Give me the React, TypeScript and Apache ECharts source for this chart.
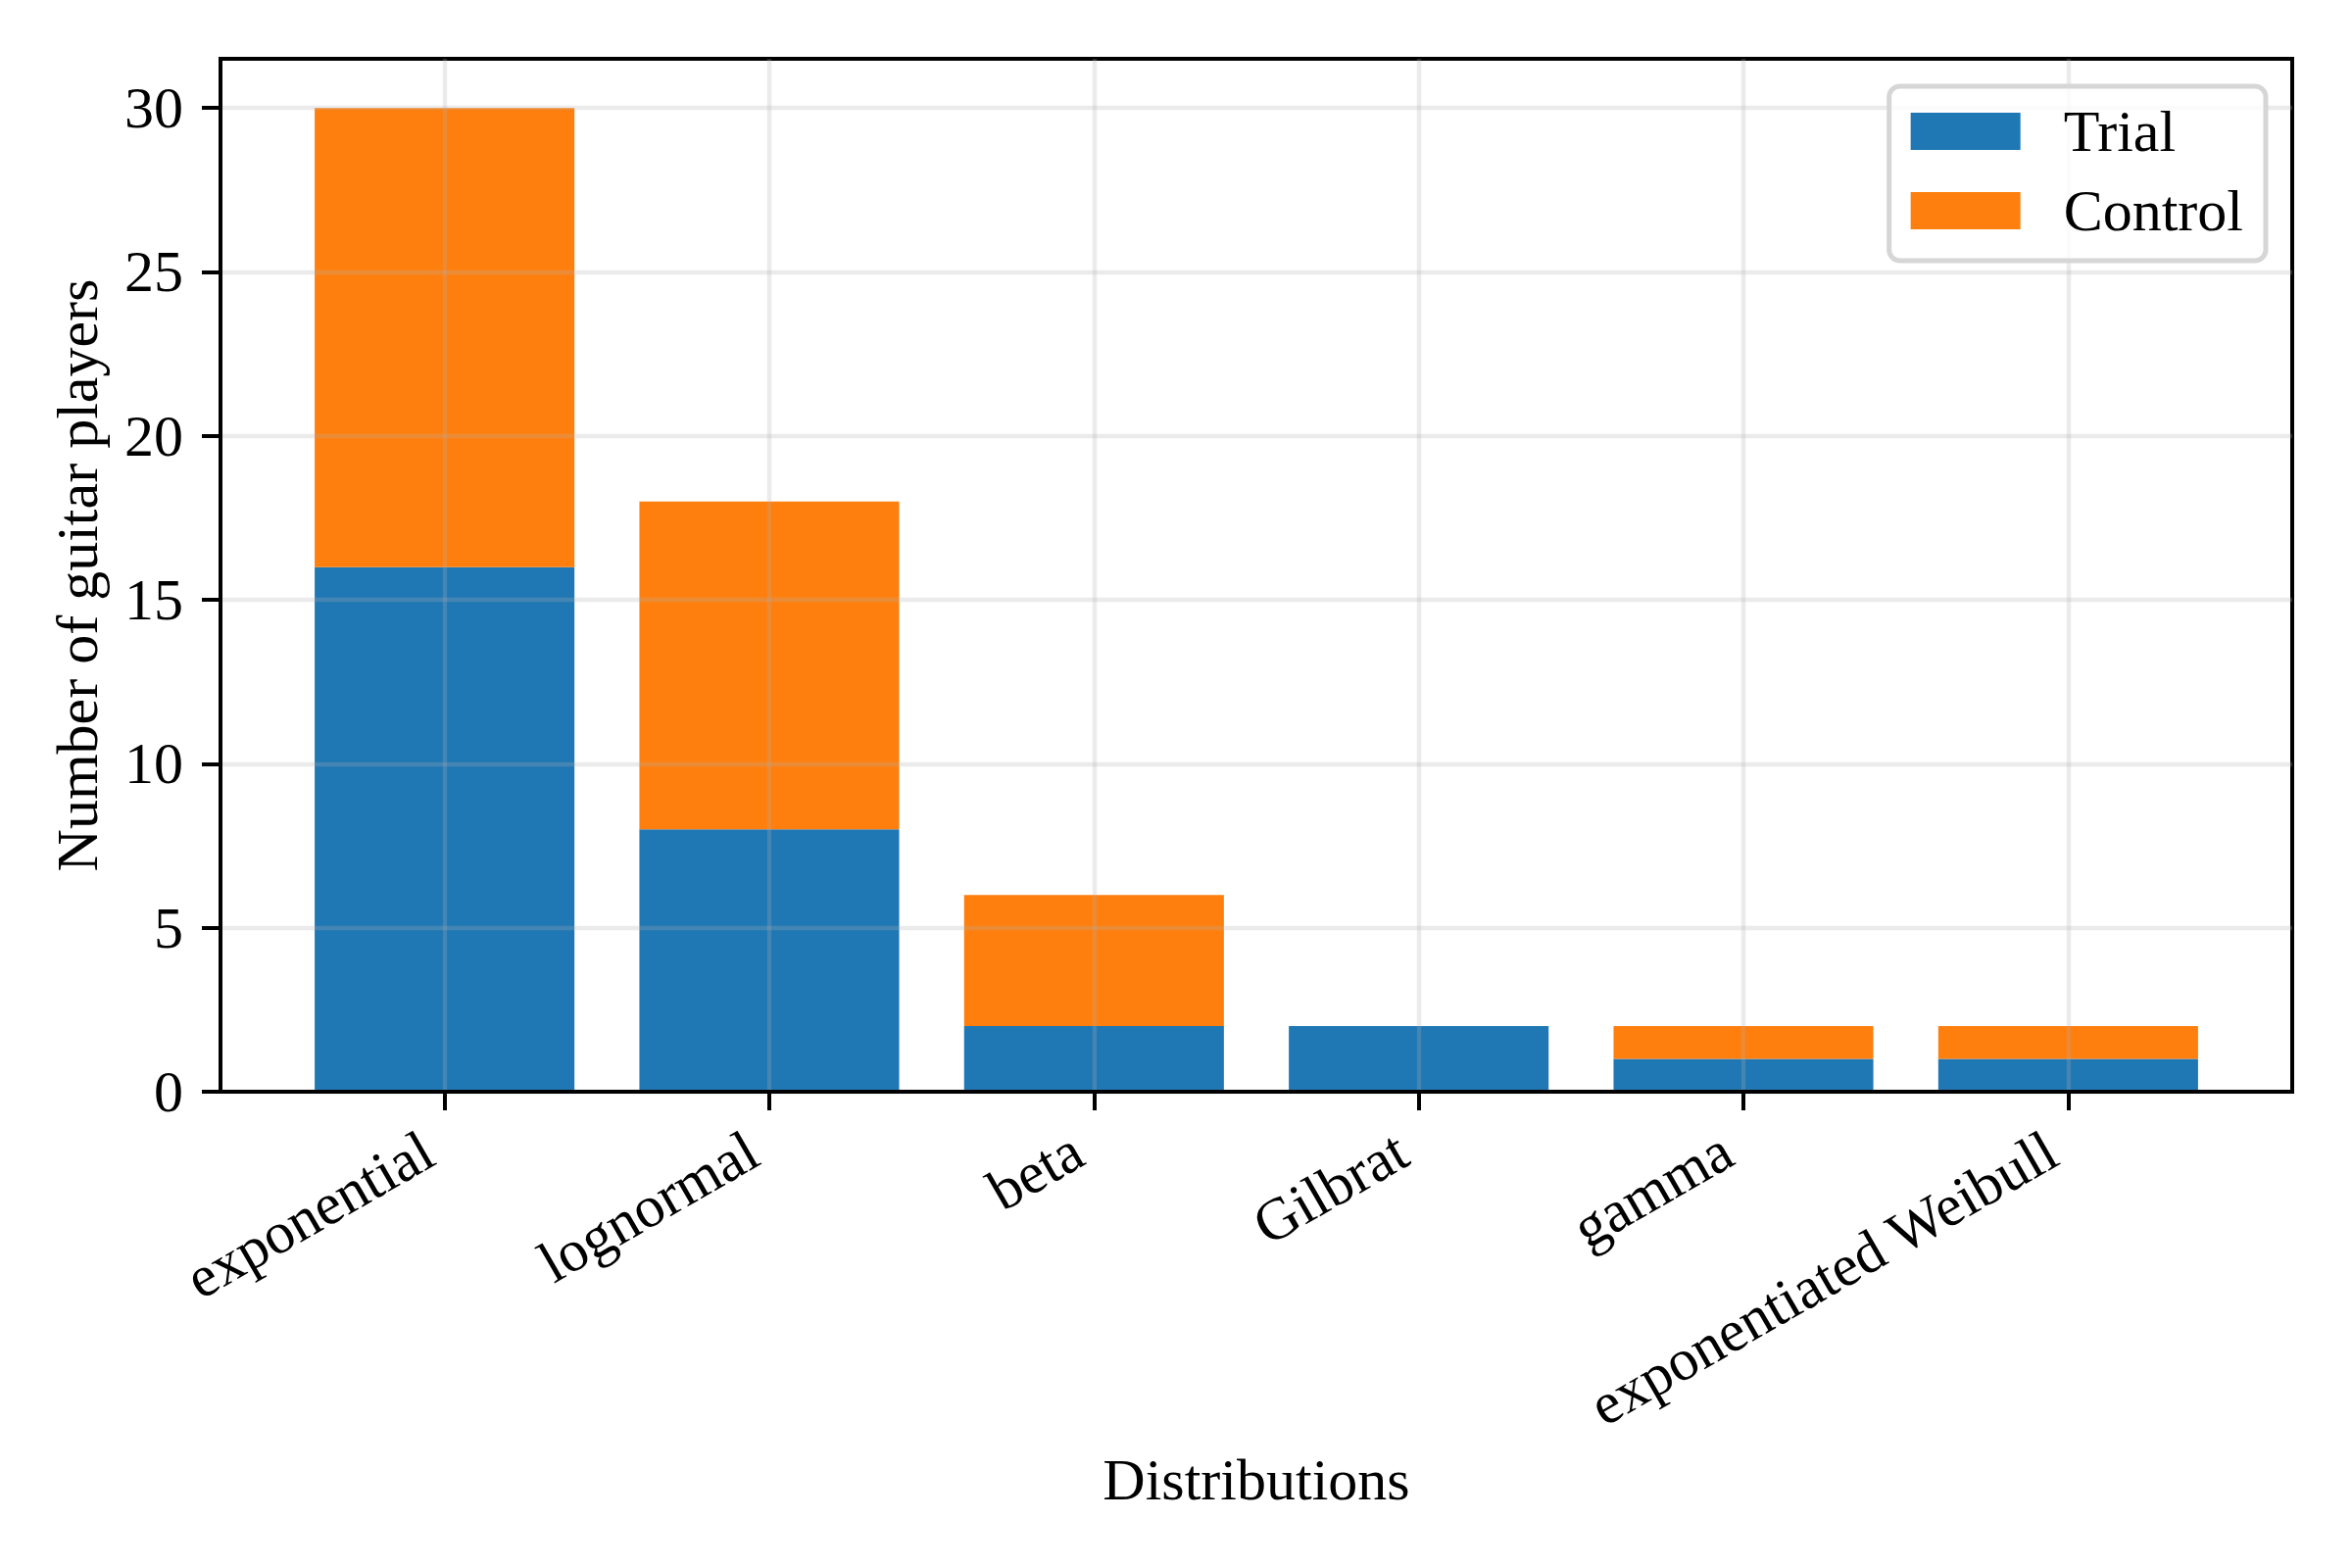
import React, { useEffect, useRef } from "react";
import * as echarts from "echarts";

const categories = ["exponential", "lognormal", "beta", "Gilbrat", "gamma", "exponentiated Weibull"];
const trialValues = [16, 8, 2, 2, 1, 1];
const controlValues = [14, 10, 4, 0, 1, 1];
const yTicks = [0, 5, 10, 15, 20, 25, 30];
const seriesNames = ["Trial", "Control"];

const FONT = "'Liberation Serif', 'DejaVu Serif', serif";
const FS = 60;

export default function App() {
  const ref = useRef<HTMLDivElement>(null);
  useEffect(() => {
    if (!ref.current) return;
    const chart = echarts.init(ref.current, undefined, { renderer: "svg" });
    const xIdx = categories.map((_, i) => i);
    const gridLine = { show: true, lineStyle: { color: "rgba(176,176,176,0.25)", width: 4.4 } };
    chart.setOption({
      animation: false,
      backgroundColor: "#ffffff",
      textStyle: { fontFamily: FONT },
      grid: {
        left: 225,
        right: 61,
        top: 60,
        bottom: 486,
        show: true,
        borderColor: "#000",
        borderWidth: 4,
        backgroundColor: "transparent",
      },
      legend: {
        orient: "vertical",
        right: 88,
        top: 88,
        padding: [16, 23, 21, 22],
        itemWidth: 112,
        itemHeight: 38,
        itemGap: 21,
        icon: "rect",
        backgroundColor: "rgba(255,255,255,0.8)",
        borderColor: "#d6d6d6",
        borderWidth: 5,
        borderRadius: 11,
        textStyle: { fontFamily: FONT, fontSize: FS, color: "#000", lineHeight: 59, padding: [0, 0, 0, 39] },
        data: seriesNames,
      },
      xAxis: {
        type: "value",
        min: -0.69,
        max: 5.69,
        z: 3,
        name: "Distributions",
        nameLocation: "middle",
        nameGap: 366,
        nameTextStyle: { fontFamily: FONT, fontSize: FS, color: "#000" },
        axisLine: { show: true, onZero: false, lineStyle: { color: "#000", width: 4 } },
        axisTick: { show: true, length: 19, inside: false, lineStyle: { color: "#000", width: 4 }, customValues: xIdx },
        axisLabel: {
          customValues: xIdx,
          rotate: 30,
          margin: 46,
          padding: [0, 19, 0, 0],
          fontFamily: FONT,
          fontSize: FS,
          color: "#000",
          formatter: (v: number) => categories[Math.round(v)] ?? "",
        },
        splitLine: gridLine,
      },
      yAxis: {
        type: "value",
        min: 0,
        max: 31.5,
        z: 3,
        name: "Number of guitar players",
        nameLocation: "middle",
        nameGap: 116,
        nameTextStyle: { fontFamily: FONT, fontSize: FS, color: "#000" },
        axisLine: { show: true, onZero: false, lineStyle: { color: "#000", width: 4 } },
        axisTick: { show: true, length: 19, inside: false, lineStyle: { color: "#000", width: 4 }, customValues: yTicks },
        axisLabel: { customValues: yTicks, margin: 38, fontFamily: FONT, fontSize: FS, color: "#000" },
        splitLine: gridLine,
      },
      series: [
        {
          name: seriesNames[0],
          type: "bar",
          stack: "total",
          barWidth: "80%",
          itemStyle: { color: "#1f77b4" },
          encode: { x: 1, y: 0 },
          data: trialValues.map((v, i) => [v, i]),
        },
        {
          name: seriesNames[1],
          type: "bar",
          stack: "total",
          barWidth: "80%",
          itemStyle: { color: "#ff7f0e" },
          encode: { x: 1, y: 0 },
          data: controlValues.map((v, i) => [v, i]),
        },
      ],
    });
    return () => chart.dispose();
  }, []);
  return (
    <div
      ref={ref}
      style={{ position: "fixed", left: 0, top: 0, width: 2400, height: 1600, background: "#fff" }}
    />
  );
}
